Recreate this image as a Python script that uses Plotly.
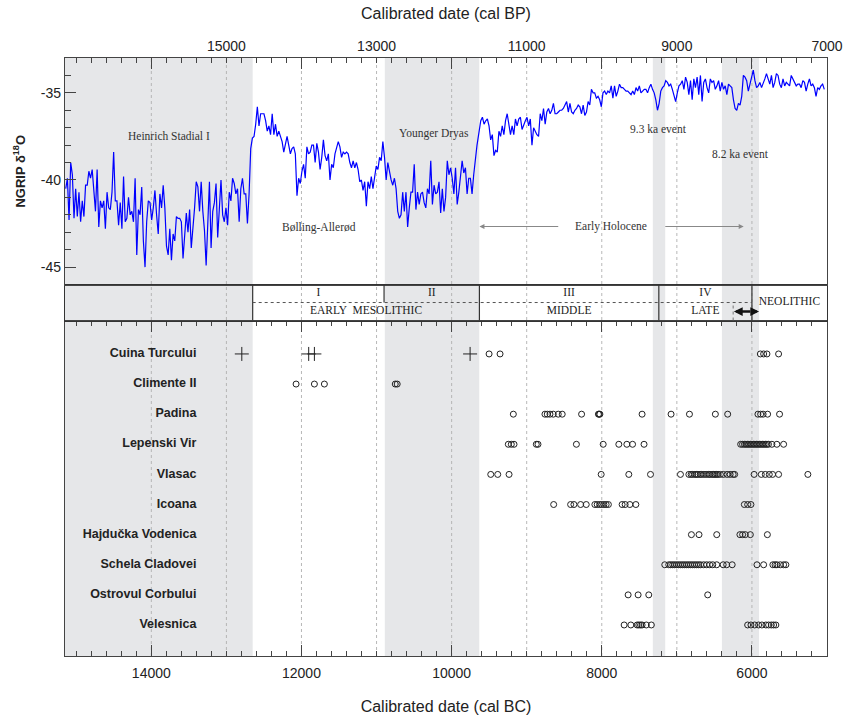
import plotly.graph_objects as go

# ---------------- data ----------------
# NGRIP delta-18O record, two contiguous segments on a 22-yr grid (cal BC)
ngrip_seg1_start = 15140
ngrip_seg2_start = 9612
ngrip_step = 22
ngrip_seg1 = [
    -40.5, -39.9, -42.3, -39.0, -39.7, -42.2, -40.5, -42.1, -40.7, -42.4,
    -41.2, -42.1, -40.3, -40.3, -39.5, -39.9, -39.4, -40.8, -41.8, -39.4,
    -42.7, -41.2, -41.6, -41.2, -42.8, -40.7, -41.6, -41.7, -40.7, -38.4,
    -41.2, -41.2, -42.6, -41.3, -42.8, -39.8, -42.4, -42.2, -41.0, -42.0,
    -41.8, -42.4, -39.9, -44.3, -41.7, -42.0, -40.4, -43.5, -45.0, -42.4,
    -41.2, -41.3, -42.3, -41.6, -40.6, -42.0, -43.1, -40.8, -41.6, -40.3,
    -41.6, -43.8, -44.3, -42.8, -44.6, -43.1, -43.5, -42.1, -42.2, -42.2,
    -42.4, -44.5, -42.9, -41.9, -43.0, -41.7, -43.9, -42.9, -41.6, -40.1,
    -40.4, -41.8, -40.1, -41.8, -42.9, -44.9, -41.8, -40.1, -43.9, -41.8,
    -41.3, -40.2, -43.3, -41.6, -40.0, -42.0, -42.4, -41.6, -42.6, -40.7,
    -41.2, -39.9, -40.2, -40.8, -40.5, -42.4, -40.5, -39.9, -40.8, -40.8,
    -42.5, -40.8, -38.2, -37.6, -37.5, -36.8, -35.8, -36.9, -36.2, -36.2,
    -36.2, -36.6, -37.2, -36.9, -37.4, -36.2, -37.4, -36.8, -37.5, -37.2,
    -37.5, -37.8, -38.4, -38.0, -37.5, -38.0, -38.5, -38.2, -38.1, -38.5,
    -40.9, -39.9, -40.2, -39.5, -39.1, -39.9, -38.1, -38.5, -38.4, -38.0,
    -38.0, -39.0, -37.9, -38.4, -39.4, -38.7, -37.7, -38.6, -38.9, -38.5,
    -40.0, -39.1, -39.3, -38.5, -38.2, -37.8, -38.1, -38.7, -38.4, -38.5,
    -38.4, -38.5, -39.0, -39.3, -38.9, -39.3, -39.0, -39.4, -40.1, -40.0,
    -40.6, -40.1, -41.5, -40.1, -40.5, -39.8, -40.5, -39.7, -39.2, -39.4,
    -38.7, -38.9, -37.8, -38.7, -40.0, -39.0, -39.6, -40.0, -40.3, -39.9,
    -40.5, -41.8, -42.2, -42.0, -40.7, -41.8, -40.7, -42.7, -41.6, -40.7,
    -40.7, -39.1, -41.7, -40.7, -41.4, -40.8, -40.7, -41.3, -41.6, -40.5,
    -40.8, -38.9, -41.4, -40.3, -40.8, -40.7, -40.1, -41.9, -40.5, -41.8,
    -41.0, -38.9, -39.7, -39.3, -39.9, -40.8, -39.3, -41.4, -40.7, -39.9,
    -38.9, -39.6, -39.3, -40.8, -39.9, -39.9, -40.8, -39.7, -38.9, -38.0,
]
ngrip_seg2 = [
    -36.6, -36.4, -36.8, -36.6, -36.5, -36.9, -37.7, -37.4, -38.6, -38.3,
    -38.4, -37.2, -37.5, -36.9, -37.4, -36.6, -36.2, -36.7, -37.4, -36.9,
    -37.4, -36.5, -36.9, -36.5, -36.4, -37.1, -36.8, -36.6, -36.4, -36.9,
    -36.5, -38.0, -37.0, -37.2, -37.4, -37.5, -36.2, -36.6, -35.9, -36.8,
    -36.1, -35.9, -36.2, -36.0, -35.6, -36.2, -36.2, -36.1, -36.0, -36.0,
    -35.9, -35.7, -35.5, -36.1, -35.6, -36.1, -36.2, -36.0, -35.9, -35.7,
    -35.8, -36.2, -35.7, -36.3, -36.1, -35.5, -35.7, -34.8, -35.0, -35.0,
    -35.3, -35.2, -35.4, -35.8, -35.0, -34.9, -35.1, -34.9, -35.0, -34.6,
    -35.3, -34.6, -35.2, -34.9, -34.5, -34.7, -34.7, -34.8, -34.9, -34.9,
    -35.0, -35.1, -34.9, -35.1, -34.7, -34.9, -34.6, -35.0, -34.9, -34.8,
    -34.8, -35.0, -34.7, -34.5, -34.8, -35.0, -35.4, -36.0, -35.6, -34.9,
    -34.7, -34.6, -34.3, -34.4, -34.6, -34.5, -34.8, -35.2, -35.5, -35.0,
    -34.6, -34.5, -34.3, -34.8, -34.1, -34.4, -35.1, -34.3, -35.4, -34.2,
    -34.7, -34.1, -35.1, -34.0, -35.5, -34.4, -34.2, -34.7, -35.0, -34.2,
    -34.4, -34.3, -34.8, -34.6, -34.3, -34.9, -34.4, -34.8, -34.6, -35.1,
    -34.5, -34.6, -34.7, -35.4, -35.9, -36.0, -35.6, -35.7, -35.2, -34.0,
    -34.1, -34.3, -34.9, -34.5, -34.0, -33.7, -34.3, -34.7, -34.6, -34.4,
    -34.7, -34.5, -34.2, -33.9, -34.2, -34.5, -34.0, -34.7, -34.4, -33.9,
    -34.0, -34.5, -34.7, -34.2, -34.6, -34.4, -34.5, -34.6, -34.0, -34.2,
    -34.4, -34.6, -34.5, -34.5, -34.7, -34.3, -34.4, -34.9, -34.5, -34.2,
    -34.6, -34.5, -34.7, -35.2, -34.7, -34.8, -34.6, -34.5, -34.8,
]
ngrip_years = ([ngrip_seg1_start - ngrip_step * i for i in range(len(ngrip_seg1))]
               + [ngrip_seg2_start - ngrip_step * i for i in range(len(ngrip_seg2))])
ngrip_values = ngrip_seg1 + ngrip_seg2

# climatic episodes (grey bands, cal BC)
shade_start = [15150, 10890, 7320, 6400]
shade_end = [12650, 9632, 7155, 5905]
grid_years = [14000, 13000, 12000, 11000, 10000, 9000, 8000, 7000, 6000]

# climate labels
climate_labels = ["Heinrich Stadial I", "Bølling-Allerød", "Younger Dryas",
                  "9.3 ka event", "8.2 ka event", "Early Holocene"]
climate_label_x = [13767, 11769, 10233, 7240, 6154, 7872]
climate_label_y = [-37.45, -42.70, -37.36, -37.07, -38.49, -42.67]

# Mesolithic phases
phase_edges = [12650, 10900, 9630, 7240, 6000, 5000]
phase_top = ["I", "II", "III", "IV"]
phase_bottom = ["EARLY  MESOLITHIC", "MIDDLE", "LATE"]
phase_bottom_edges = [12650, 9630, 7240, 6000]
neolithic_label = "NEOLITHIC"
transition_year = 6250

# sites and radiocarbon dates (cal BC)
sites = ["Cuina Turcului", "Climente II", "Padina", "Lepenski Vir", "Vlasac", "Icoana",
         "Hajdučka Vodenica", "Schela Cladovei", "Ostrovul Corbului", "Velesnica"]
cuina_turcului_plus = [12795, 11904, 11828, 9754]
cuina_turcului = [9501, 9355, 5888, 5844, 5800, 5645]
climente_ii = [12072, 11828, 11695, 10751, 10725]
padina = [9178, 8757, 8726, 8690, 8646, 8580, 8527, 8269, 8045, 8035, 8025, 7463, 7077,
          6832, 6487, 6323, 5920, 5884, 5851, 5791, 5632]
lepenski_vir = [9245, 9205, 9169, 8872, 8850, 8338, 7981, 7773, 7666, 7590, 7437,
                6150, 6125, 6100, 6080, 6060, 6040, 6020, 6000, 5980, 5960, 5940, 5920,
                5900, 5880, 5860, 5840, 5820, 5800, 5780, 5734, 5668, 5578]
vlasac = [9479, 9386, 9235, 8008, 7640, 7351, 6952,
          6840, 6810, 6790, 6760, 6740, 6720, 6690, 6670, 6640, 6610, 6580, 6560, 6530,
          6510, 6490, 6470, 6450, 6420, 6380, 6330, 6290, 6250, 6230,
          5971, 5875, 5822, 5769, 5725, 5645, 5255]
icoana = [8641, 8415, 8371, 8282, 8207, 8092, 8061, 8029, 8003, 7972, 7942, 7912,
          7729, 7689, 7626, 7546, 6101, 6057, 6013]
hajducka_vodenica = [6806, 6705, 6469, 6160, 6124, 6088, 6021, 5794]
schela_cladovei = [7161, 7108, 7082, 7055, 7029, 7002, 6976, 6949, 6922, 6896, 6869, 6843,
                   6816, 6790, 6763, 6737, 6710, 6684, 6642, 6602, 6562, 6522, 6469,
                   6383, 6336, 6263, 5933, 5844, 5721, 5692, 5668, 5622, 5578, 5548]
ostrovul_corbului = [7649, 7516, 7374, 6589]
velesnica = [7702, 7613, 7529, 7507, 7484, 7463, 7407, 7340,
             6057, 6013, 5964, 5911, 5867, 5814, 5778, 5742, 5711, 5681]
site_dates = [cuina_turcului, climente_ii, padina, lepenski_vir, vlasac, icoana,
              hajducka_vodenica, schela_cladovei, ostrovul_corbului, velesnica]

bc_ticks = [14000, 12000, 10000, 8000, 6000]
bc_tick_text = ["14000", "12000", "10000", "8000", "6000"]
bp_tick_pos = [13000, 11000, 9000, 7000, 5000]
bp_tick_text = ["15000", "13000", "11000", "9000", "7000"]
d18o_ticks = [-35, -40, -45]
d18o_text = ["-35", "-40", "-45"]

# ---------------- styling ----------------
SANS = "Liberation Sans, Arial, sans-serif"
SERIF = "Liberation Serif, Times New Roman, serif"
XR = [15150, 5000]
AX = "#444444"
SHADE = "#e6e7e9"
DOT = "#222222"

fig = go.Figure()

# climate curve
fig.add_trace(go.Scatter(x=ngrip_years, y=ngrip_values, mode="lines",
                         line=dict(color="#0000ff", width=1.2),
                         xaxis="x3", yaxis="y3", showlegend=False, hoverinfo="skip"))
# dummy trace for long top ticks
fig.add_trace(go.Scatter(x=[None], y=[None], xaxis="x4", yaxis="y3",
                         showlegend=False, hoverinfo="skip"))

# site dates
for name, dates in zip(sites, site_dates):
    fig.add_trace(go.Scatter(x=dates, y=[name] * len(dates), mode="markers",
                             marker=dict(symbol="circle-open", size=6, color=DOT,
                                         line=dict(width=1, color=DOT)),
                             xaxis="x", yaxis="y", showlegend=False, hoverinfo="skip"))
fig.add_trace(go.Scatter(x=cuina_turcului_plus, y=[sites[0]] * len(cuina_turcului_plus),
                         mode="markers",
                         marker=dict(symbol="cross-thin-open", size=10, color=DOT,
                                     line=dict(width=1, color=DOT)),
                         xaxis="x", yaxis="y", showlegend=False, hoverinfo="skip"))
# site labels
fig.add_trace(go.Scatter(x=[13400] * len(sites), y=sites, mode="text",
                         text=["<b>%s</b>" % s for s in sites],
                         textposition="middle left",
                         textfont=dict(family=SANS, size=12.5, color="#222222"),
                         xaxis="x", yaxis="y", showlegend=False, hoverinfo="skip"))

# phase labels
top_centers = [(phase_edges[i] + phase_edges[i + 1]) / 2 for i in range(len(phase_top))]
bot_centers = [(phase_bottom_edges[i] + phase_bottom_edges[i + 1]) / 2
               for i in range(len(phase_bottom))]
fig.add_trace(go.Scatter(x=top_centers + bot_centers + [(phase_edges[4] + phase_edges[5]) / 2],
                         y=[1.5] * len(phase_top) + [0.5] * len(phase_bottom) + [1.0],
                         mode="text", text=phase_top + phase_bottom + [neolithic_label],
                         textfont=dict(family=SERIF, size=11.5, color="#222222"),
                         xaxis="x2", yaxis="y2", showlegend=False, hoverinfo="skip"))

shapes = []
for s0, s1 in zip(shade_start, shade_end):
    shapes.append(dict(type="rect", xref="x", yref="paper", x0=s0, x1=s1, y0=0, y1=1,
                       fillcolor=SHADE, line=dict(width=0), layer="below"))
for g in grid_years:
    shapes.append(dict(type="line", xref="x", yref="paper", x0=g, x1=g, y0=0, y1=1,
                       line=dict(color="#b0b0b0", width=0.9, dash="dot"), layer="below"))
# phase cell borders
for i, e in enumerate(phase_edges[:-1]):
    y0 = 1 if e == phase_edges[1] else 0
    shapes.append(dict(type="line", xref="x2", yref="y2", x0=e, x1=e, y0=y0, y1=2,
                       line=dict(color="#333333", width=1.2)))
shapes.append(dict(type="line", xref="x2", yref="y2", x0=phase_edges[0], x1=phase_edges[4],
                   y0=1, y1=1, line=dict(color="#555555", width=1, dash="dot")))
shapes.append(dict(type="line", xref="x2", yref="y2", x0=transition_year, x1=transition_year,
                   y0=0, y1=1, line=dict(color="#777777", width=1, dash="dot")))

annotations = []
for t, x, y in zip(climate_labels, climate_label_x, climate_label_y):
    annotations.append(dict(text=t, x=x, y=y, xref="x3", yref="y3", showarrow=False,
                            font=dict(family=SERIF, size=11.5, color="#333333")))
# Early Holocene arrows
annotations.append(dict(text="", x=9630, y=-42.67, ax=8560, ay=-42.67, xref="x3", yref="y3",
                        axref="x3", ayref="y3", showarrow=True, arrowhead=2, arrowsize=1,
                        arrowwidth=1, arrowcolor="#888888"))
annotations.append(dict(text="", x=6110, y=-42.67, ax=7174, ay=-42.67, xref="x3", yref="y3",
                        axref="x3", ayref="y3", showarrow=True, arrowhead=2, arrowsize=1,
                        arrowwidth=1, arrowcolor="#888888"))
# transition double arrow
for head in (6240, 5905):
    annotations.append(dict(text="", x=head, y=0.5, ax=6000, ay=0.5, xref="x2", yref="y2",
                            axref="x2", ayref="y2", showarrow=True, arrowhead=2,
                            arrowsize=0.7, arrowwidth=2.5, arrowcolor="#111111"))

D_SITE = [0, 0.5610]
D_BAND = [0.5610, 0.6212]
D_CLIM = [0.6212, 1.0]
tickfont = dict(family=SANS, size=14, color="#222222")

fig.update_layout(
    width=848, height=720,
    margin=dict(l=65, r=21, t=58, b=64, autoexpand=False),
    paper_bgcolor="white", plot_bgcolor="rgba(0,0,0,0)",
    font=dict(family=SANS, color="#222222"),
    shapes=shapes, annotations=annotations,
    xaxis=dict(domain=[0, 1], anchor="y", range=XR, tickmode="array", tickvals=bc_ticks,
               ticktext=bc_tick_text, ticklabelstandoff=4,
               ticks="inside", ticklen=11, tickcolor=AX, tickwidth=1.2,
               minor=dict(ticks="inside", ticklen=5, dtick=200, tick0=0, tickcolor=AX,
                          showgrid=False),
               showline=True, linecolor=AX, linewidth=1.3, mirror="ticks",
               showgrid=False, zeroline=False, tickfont=tickfont,
               title=dict(text="Calibrated date (cal BC)", font=dict(size=16, family=SANS),
                          standoff=20)),
    yaxis=dict(domain=D_SITE, anchor="x", type="category", categoryarray=sites,
               range=[10.03, -1.11], showticklabels=False, ticks="", showline=True,
               linecolor=AX, linewidth=1.3, mirror=True, showgrid=False, zeroline=False),
    xaxis2=dict(domain=[0, 1], anchor="y2", range=XR, showticklabels=False, ticks="",
                showline=True, linecolor="#333333", linewidth=1.3, mirror=True,
                showgrid=False, zeroline=False),
    yaxis2=dict(domain=D_BAND, anchor="x2", range=[0, 2], showticklabels=False, ticks="",
                showline=True, linecolor="#333333", linewidth=1.3, mirror=True,
                showgrid=False, zeroline=False),
    xaxis3=dict(domain=[0, 1], anchor="y3", side="top", range=XR, tickmode="array",
                tickvals=bp_tick_pos, ticktext=bp_tick_text, ticks="inside", ticklen=5,
                tickcolor=AX,
                minor=dict(ticks="inside", ticklen=5, dtick=200, tick0=0, tickcolor=AX,
                           showgrid=False),
                showline=True, linecolor=AX, linewidth=1.3, mirror=True, showgrid=False,
                zeroline=False, tickfont=tickfont,
                title=dict(text="Calibrated date (cal BP)", font=dict(size=16, family=SANS),
                           standoff=14)),
    xaxis4=dict(overlaying="x3", anchor="y3", side="top", range=XR, tickmode="array",
                tickvals=bc_ticks, ticks="inside", ticklen=11, tickcolor=AX, tickwidth=1.2,
                showticklabels=False, showline=False, showgrid=False, zeroline=False),
    yaxis3=dict(domain=D_CLIM, anchor="x3", range=[-46, -33], tickmode="array",
                tickvals=d18o_ticks, ticktext=d18o_text, ticks="inside", ticklen=11,
                tickcolor=AX, tickwidth=1.2,
                minor=dict(ticks="inside", ticklen=6, dtick=1, tickcolor=AX, showgrid=False),
                showline=True, linecolor=AX, linewidth=1.3, mirror=True, showgrid=False,
                zeroline=False, tickfont=tickfont,
                title=dict(text="<b>NGRIP δ<sup>18</sup>O</b>", font=dict(size=13, family=SANS),
                           standoff=12)),
)

fig.write_html("out.html", config={"displayModeBar": False},
               post_script="document.body.style.margin='0px';")
